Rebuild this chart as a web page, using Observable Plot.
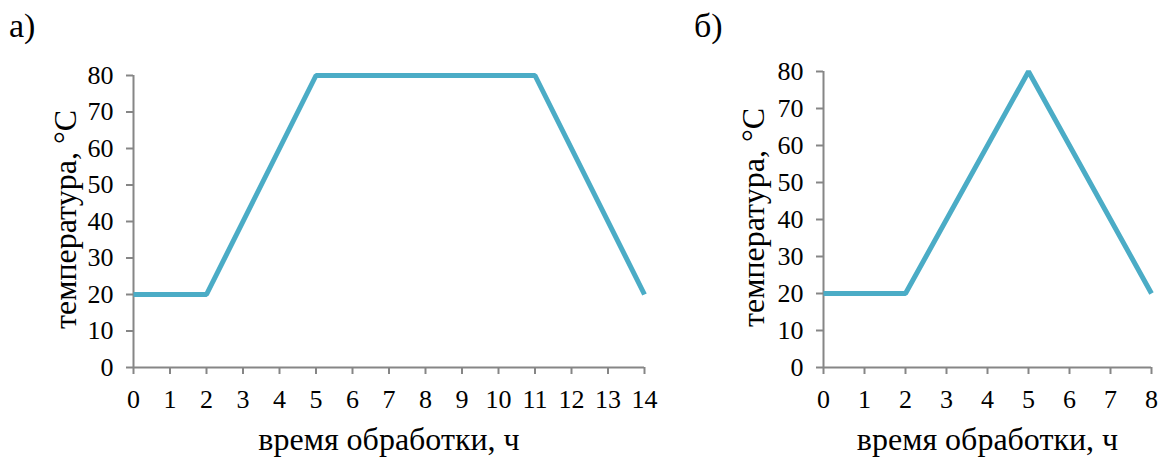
<!DOCTYPE html>
<html>
<head>
<meta charset="utf-8">
<script src="https://cdn.jsdelivr.net/npm/d3@7"></script>
<script src="https://cdn.jsdelivr.net/npm/@observablehq/plot@0.6"></script>
<style>
  html, body { margin: 0; padding: 0; background: #fff; }
  #wrap { position: relative; width: 1160px; height: 457px; overflow: hidden; }
  .panel { position: absolute; top: 0; }
  .tag { position: absolute; top: 9px; font-size: 34px; line-height: 1; color: #000; }
</style>
</head>
<body>
<div id="wrap"></div>
<script>
// Panel а): temperature regime, 14 h
const timeA = [0, 2, 5, 11, 14];
const tempA = [20, 20, 80, 80, 20];
// Panel б): temperature regime, 8 h
const timeB = [0, 2, 5, 8];
const tempB = [20, 20, 80, 20];

const yTicks = [0, 10, 20, 30, 40, 50, 60, 70, 80];
const xTicksA = d3.range(0, 15);
const xTicksB = d3.range(0, 9);

const panelTags = ["а)", "б)"];
const xTitle = "время обработки, ч";
const yTitle = "температура, °C";

const lineColor = "#4BACC6";
const axisColor = "#868686";
const serif = "Liberation Serif";

function makePanel(xs, ys, xDomain, xTicks, opts) {
  const data = xs.map((x, i) => ({x, y: ys[i]}));
  const svg = Plot.plot({
    width: opts.width,
    height: 457,
    marginLeft: opts.marginLeft,
    marginRight: opts.marginRight,
    marginTop: opts.marginTop,
    marginBottom: 90,
    style: {background: "transparent", color: "#000", overflow: "visible"},
    x: {domain: xDomain},
    y: {domain: [0, 80]},
    marks: [
      Plot.axisY({ticks: yTicks, tickSize: 7, tickPadding: 13, stroke: axisColor, strokeWidth: 2, fontSize: 26, fontFamily: serif, label: null}),
      Plot.axisX({ticks: xTicks, tickSize: 7, tickPadding: 15, stroke: axisColor, strokeWidth: 2, fontSize: 26, fontFamily: serif, label: null}),
      Plot.ruleX([xDomain[0]], {stroke: axisColor, strokeWidth: 2}),
      Plot.ruleY([0], {stroke: axisColor, strokeWidth: 2}),
      Plot.line(data, {x: "x", y: "y", stroke: lineColor, strokeWidth: 5, strokeLinejoin: "miter", strokeLinecap: "butt"}),
      Plot.text([xTitle], {frameAnchor: "bottom", dy: 82, fontSize: 32, fontFamily: serif, lineAnchor: "bottom", fill: "#000"}),
      Plot.text([yTitle], {frameAnchor: "left", rotate: -90, dx: opts.yTitleDx, dy: -2, fontSize: 32, fontFamily: serif, lineAnchor: "bottom", textAnchor: "middle", fill: "#000"})
    ]
  });
  svg.setAttribute("font-family", serif);
  svg.style.fontFamily = serif;
  return svg;
}

const wrap = document.getElementById("wrap");

const left = makePanel(timeA, tempA, [0, 14], xTicksA, {width: 670, marginLeft: 133, marginRight: 26, marginTop: 75, yTitleDx: -58});
left.classList.add("panel");
left.style.left = "0px";
wrap.appendChild(left);

const right = makePanel(timeB, tempB, [0, 8], xTicksB, {width: 470, marginLeft: 133, marginRight: 9, marginTop: 71, yTitleDx: -60});
right.classList.add("panel");
right.style.left = "690px";
wrap.appendChild(right);

[[panelTags[0], 9], [panelTags[1], 694]].forEach(([t, x]) => {
  const d = document.createElement("div");
  d.className = "tag";
  d.style.left = x + "px";
  d.style.fontFamily = serif;
  d.textContent = t;
  wrap.appendChild(d);
});
</script>
</body>
</html>
